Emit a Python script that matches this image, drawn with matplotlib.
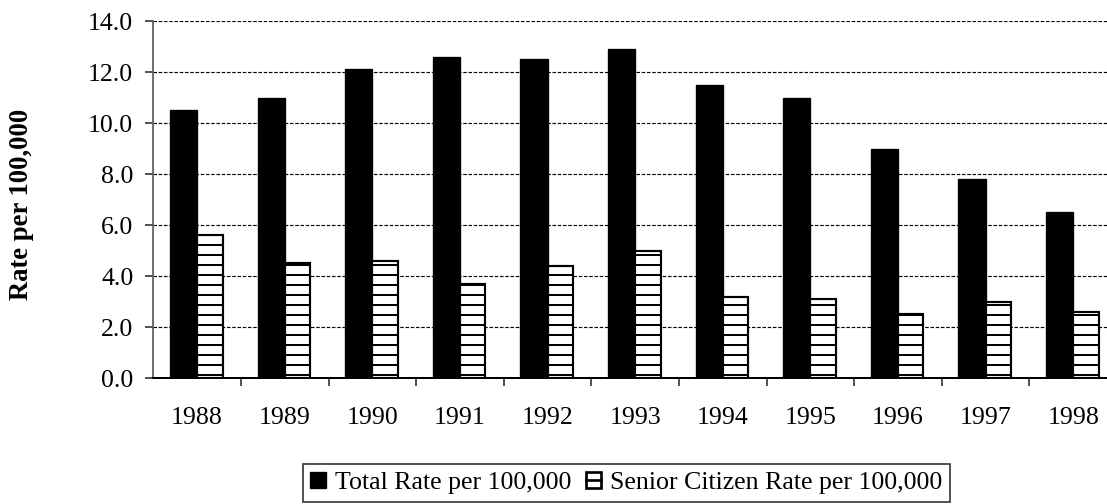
import matplotlib
matplotlib.use("Agg")
import matplotlib.pyplot as plt
import numpy as np
from matplotlib.ticker import FixedLocator, FormatStrFormatter
from matplotlib.legend_handler import HandlerBase
from matplotlib.patches import Rectangle
from matplotlib.lines import Line2D

years = ["1988", "1989", "1990", "1991", "1992", "1993", "1994", "1995", "1996", "1997", "1998"]
total_rate = [10.5, 11.0, 12.1, 12.6, 12.5, 12.9, 11.5, 11.0, 9.0, 7.8, 6.5]
senior_rate = [5.6, 4.5, 4.6, 3.7, 4.4, 5.0, 3.2, 3.1, 2.5, 3.0, 2.6]
series_labels = ["Total Rate per 100,000", "Senior Citizen Rate per 100,000"]
y_ticks = [0, 2, 4, 6, 8, 10, 12, 14]

plt.rcParams["font.family"] = ["Liberation Serif", "DejaVu Serif"]
plt.rcParams["hatch.linewidth"] = 1.2
plt.rcParams["hatch.color"] = "black"


class HatchBoxHandler(HandlerBase):
    """Legend key: outlined white square with a single horizontal middle line."""
    def create_artists(self, legend, orig_handle, xdescent, ydescent, width, height,
                       fontsize, trans):
        rect = Rectangle((-xdescent, -ydescent), width, height, facecolor="white",
                         edgecolor="black", linewidth=1.6, transform=trans)
        ym = -ydescent + height / 2
        line = Line2D([-xdescent, -xdescent + width], [ym, ym], color="black",
                      linewidth=1.6, transform=trans)
        return [rect, line]


DPI = 120
fig = plt.figure(figsize=(1107 / DPI, 504 / DPI), dpi=DPI)
W, H = 1107, 504
left, right, top, bottom = 153.3, 1117, 21, 378.3
ax = fig.add_axes([left / W, 1 - bottom / H, (right - left) / W, (bottom - top) / H])

x = np.arange(len(years))
bw = 0.31
b1 = ax.bar(x - bw / 2, total_rate, bw, color="black", edgecolor="black", linewidth=0.8,
            label=series_labels[0], zorder=2)
b2 = ax.bar(x + bw / 2 - 0.01, senior_rate, bw - 0.02, color="white", edgecolor="black",
            linewidth=1.3, hatch="--", label=series_labels[1], zorder=2)

ax.set_xlim(-0.5, len(years) - 0.5)
ax.set_ylim(0, 14)
ax.yaxis.set_major_locator(FixedLocator(y_ticks))
ax.yaxis.set_major_formatter(FormatStrFormatter("%.1f"))
ax.set_xticks(x)
ax.set_xticklabels(years)
ax.xaxis.set_minor_locator(FixedLocator(np.arange(0.5, len(years) - 0.5, 1.0)))

ax.tick_params(axis="x", which="major", length=0, pad=17, labelsize=15.5)
ax.tick_params(axis="x", which="minor", length=5, width=1.0, direction="out", color="#333333")
ax.tick_params(axis="y", which="major", length=5, width=1.0, direction="out", pad=7,
               labelsize=15.5, color="#333333")

ax.grid(axis="y", color="black", linestyle=(0, (3, 1.5)), linewidth=0.7)
ax.set_axisbelow(True)

for s in ["top", "right"]:
    ax.spines[s].set_visible(False)
ax.spines["left"].set_color("#555555")
ax.spines["left"].set_linewidth(1.0)
ax.spines["bottom"].set_color("black")
ax.spines["bottom"].set_linewidth(1.2)

fig.text(22 / W, 1 - 204 / H, "Rate per 100,000", rotation=90, fontsize=16, fontweight="bold",
         ha="center", va="center")

leg = fig.legend(handles=[b1, b2], labels=series_labels, loc="upper left",
                 bbox_to_anchor=(302.7 / W, 1 - 464 / H), ncol=2, fontsize=15.5,
                 frameon=True, fancybox=False, shadow=False, handlelength=0.6,
                 handleheight=0.6, handletextpad=0.35, columnspacing=0.55,
                 borderpad=0.3, borderaxespad=0,
                 handler_map={b2: HatchBoxHandler()})
leg.get_frame().set_edgecolor("black")
leg.get_frame().set_linewidth(1.0)

fig.savefig("out.png", dpi=DPI)
